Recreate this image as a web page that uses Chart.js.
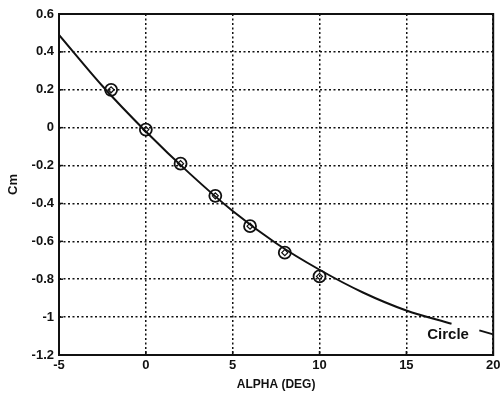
<!DOCTYPE html>
<html>
<head>
<meta charset="utf-8">
<script src="https://cdn.jsdelivr.net/npm/chart.js@4.4.1/dist/chart.umd.min.js"></script>
<style>
  html, body { margin: 0; padding: 0; background: #fff; }
  #wrap { width: 501px; height: 398px; }
</style>
</head>
<body>
<div id="wrap"><canvas id="c" width="501" height="398"></canvas></div>
<script>
// Measured points (circle markers)
const alphaPts = [-2, 0, 2, 4, 6, 8, 10];
const cmPts = [0.2, -0.01, -0.19, -0.36, -0.52, -0.66, -0.785];
// Curve "Circle"
const alphaCurve = [-5, -2.5, 0, 2.5, 5, 7.5, 10, 12.5, 15, 17.6];
const cmCurve = [0.49, 0.22, -0.02, -0.24, -0.44, -0.61, -0.75, -0.87, -0.965, -1.035];
// Ticks
const xTicks = [-5, 0, 5, 10, 15, 20];
const yTickValues = [0.6, 0.4, 0.2, 0, -0.2, -0.4, -0.6, -0.8, -1, -1.2];
const yTickLabels = ['0.6', '0.4', '0.2', '0', '-0.2', '-0.4', '-0.6', '-0.8', '-1', '-1.2'];
const xTitle = 'ALPHA (DEG)';
const yTitle = 'Cm';
const curveLabel = 'Circle';

const FONT = '"Liberation Sans", Arial, sans-serif';
const INK = '#111';

const framePlugin = {
  id: 'frame',
  afterDraw(chart) {
    const { ctx, chartArea: a, scales } = chart;
    ctx.save();
    ctx.strokeStyle = INK;
    ctx.lineWidth = 2;
    ctx.setLineDash([]);
    ctx.strokeRect(a.left, a.top, a.right - a.left, a.bottom - a.top);
    // inward ticks
    ctx.lineWidth = 1.5;
    yTickValues.forEach(v => {
      const y = scales.y.getPixelForValue(v);
      ctx.beginPath(); ctx.moveTo(a.left, y); ctx.lineTo(a.left + 4, y); ctx.stroke();
    });
    xTicks.forEach(v => {
      const x = scales.x.getPixelForValue(v);
      ctx.beginPath(); ctx.moveTo(x, a.bottom); ctx.lineTo(x, a.bottom - 4); ctx.stroke();
    });
    // curve label
    const tx = scales.x.getPixelForValue(16.2);
    const ty = scales.y.getPixelForValue(-1.095);
    ctx.fillStyle = INK;
    ctx.font = 'bold 15px ' + FONT;
    ctx.textBaseline = 'middle';
    ctx.textAlign = 'left';
    ctx.fillText(curveLabel, tx, ty);
    ctx.lineWidth = 2;
    ctx.beginPath();
    ctx.moveTo(scales.x.getPixelForValue(19.2), scales.y.getPixelForValue(-1.07));
    ctx.lineTo(scales.x.getPixelForValue(19.95), scales.y.getPixelForValue(-1.09));
    ctx.stroke();
    ctx.restore();
  }
};

new Chart(document.getElementById('c'), {
  type: 'scatter',
  data: {
    datasets: [
      {
        type: 'line',
        data: alphaCurve.map((x, i) => ({ x, y: cmCurve[i] })),
        borderColor: INK,
        borderWidth: 2,
        pointRadius: 0,
        fill: false,
        cubicInterpolationMode: 'monotone',
        order: 3
      },
      {
        data: alphaPts.map((x, i) => ({ x, y: cmPts[i] })),
        pointStyle: 'circle',
        pointRadius: 6,
        pointBorderWidth: 1.8,
        pointBorderColor: INK,
        pointBackgroundColor: 'rgba(255,255,255,0)',
        showLine: false,
        order: 2
      },
      {
        data: alphaPts.map((x, i) => ({ x, y: cmPts[i] })),
        pointStyle: 'rectRot',
        pointRadius: 3,
        pointBorderWidth: 1.2,
        pointBorderColor: INK,
        pointBackgroundColor: 'rgba(255,255,255,0)',
        showLine: false,
        order: 1
      }
    ]
  },
  options: {
    responsive: false,
    animation: false,
    devicePixelRatio: 1,
    layout: { padding: { left: 6, top: 14, right: 5, bottom: 6 } },
    plugins: { legend: { display: false }, tooltip: { enabled: false } },
    scales: {
      x: {
        type: 'linear',
        min: -5, max: 20,
        afterBuildTicks: s => { s.ticks = xTicks.map(v => ({ value: v })); },
        afterFit: s => { s.height = 37; s.paddingLeft = 0; s.paddingRight = 0; },
        ticks: {
          color: INK,
          font: { family: FONT, size: 13, weight: 'bold' },
          padding: 3,
          maxRotation: 0,
          callback: v => String(v)
        },
        grid: { color: INK, lineWidth: 1.5, drawTicks: false },
        border: { display: false, dash: [2, 2.5] },
        title: {
          display: true, text: xTitle, color: INK,
          font: { family: FONT, size: 12, weight: 'bold' },
          padding: { top: 0, bottom: 0 }
        }
      },
      y: {
        type: 'linear',
        min: -1.2, max: 0.6,
        afterBuildTicks: s => { s.ticks = yTickValues.map(v => ({ value: v })); },
        afterFit: s => { s.width = 53; },
        ticks: {
          color: INK,
          font: { family: FONT, size: 13, weight: 'bold' },
          padding: 5,
          callback: v => {
            const i = yTickValues.findIndex(t => Math.abs(t - v) < 1e-6);
            return i >= 0 ? yTickLabels[i] : '';
          }
        },
        grid: { color: INK, lineWidth: 1.5, drawTicks: false },
        border: { display: false, dash: [2, 2.5] },
        title: {
          display: true, text: yTitle, color: INK,
          font: { family: FONT, size: 13, weight: 'bold' },
          padding: { top: 0, bottom: 0 }
        }
      }
    }
  },
  plugins: [framePlugin]
});
</script>
</body>
</html>
